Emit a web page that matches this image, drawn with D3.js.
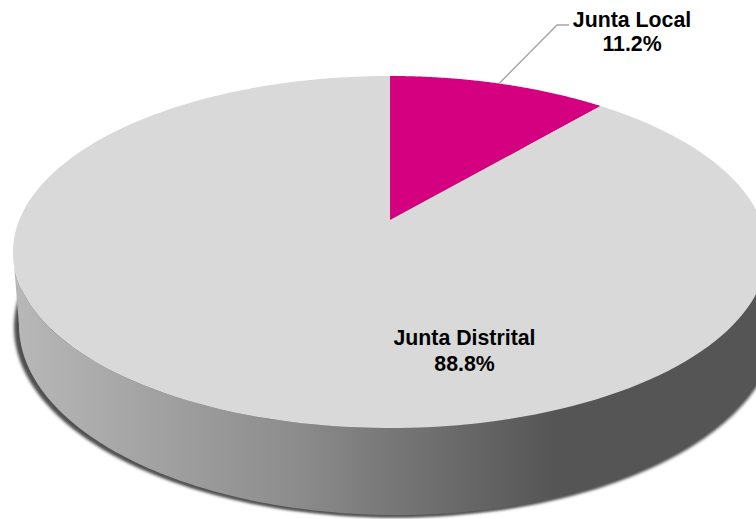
<!DOCTYPE html>
<html><head><meta charset="utf-8">
<script src="https://cdn.jsdelivr.net/npm/d3@7"></script>
<style>html,body{margin:0;padding:0;background:#fff;overflow:hidden}svg{display:block}
text{font-family:"Liberation Sans",Arial,sans-serif;font-weight:700;font-size:21.3px;fill:#000;text-anchor:middle}</style>
</head><body><div id="chart"></div>
<script>
const categories = ["Junta Local", "Junta Distrital"];
const shares = [11.2, 88.8];
const sliceColors = ["#d5007f", "#d9d9d9"];

const W = 756, H = 519;
const svg = d3.select("#chart").append("svg").attr("width", W).attr("height", H);
const defs = svg.append("defs");

// perspective disc: unit-circle point -> screen
const cx = 390, apexY = 220, persp = 64 / 352;
const sx = 370.7, sy = 170.2;
const project = a => {
  const u = Math.sin(a), v = Math.cos(a), w = 1 + persp * v;
  return [cx + sx * u / w, apexY - sy * v / w];
};
const sweep = (a0, a1) => d3.range(0, 181).map(i => a0 + (a1 - a0) * i / 180);

const pie = d3.pie().sort(null).value(d => d)(shares);

// outlines of the disc: upper rim and lower base
const rim = {cx: 390, rx: 377, ry: 176, cy: 252};
const base = {cx: 397, rx: 378, ry: 190, cy: 325};
const pt = e => t => [e.cx + e.rx * Math.cos(t), e.cy + e.ry * Math.sin(t)];
const baseLine = d3.line()(sweep(0, 2 * Math.PI).map(pt(base))) + "Z";

// shadow
const blur = defs.append("filter").attr("id", "soft")
  .attr("x", "-5%").attr("y", "-5%").attr("width", "110%").attr("height", "110%");
blur.append("feGaussianBlur").attr("stdDeviation", 1.8);
svg.append("path").attr("d", baseLine).attr("fill", "#4f4f4f")
  .attr("transform", "translate(-5,2)").attr("filter", "url(#soft)");
svg.append("path").attr("d", baseLine).attr("fill", "#555")
  .attr("transform", "translate(1,2)").attr("filter", "url(#soft)");

// wall
const grad = defs.append("linearGradient").attr("id", "wall")
  .attr("gradientUnits", "userSpaceOnUse").attr("x1", 13).attr("x2", 556).attr("y1", 0).attr("y2", 0);
[["0", "#b8b8b8"], ["0.5", "#8e8e8e"], ["1", "#555555"]].forEach(([o, c]) =>
  grad.append("stop").attr("offset", o).attr("stop-color", c));
svg.append("path")
  .attr("d", d3.line()([...sweep(0, Math.PI).map(pt(rim)), ...sweep(Math.PI, 0).map(pt(base))]) + "Z")
  .attr("fill", "url(#wall)");

// top slices
const slicePath = d => d3.line()(
  [[cx, apexY], ...sweep(d.startAngle, d.endAngle).map(project)]) + "Z";
svg.selectAll("path.slice").data(pie).enter().append("path")
  .attr("class", "slice")
  .attr("d", slicePath)
  .attr("fill", (d, i) => sliceColors[i]);

// leader for the small slice
const anchor = project((pie[0].startAngle + pie[0].endAngle) / 2);
svg.append("path")
  .attr("d", d3.line()([anchor, [557, 25], [569, 25]]))
  .attr("fill", "none").attr("stroke", "#a6a6a6").attr("stroke-width", 1.5);

const labelSpots = [[632, 27, 51], [464.5, 345, 371]];
categories.forEach((c, i) => {
  const [x, y1, y2] = labelSpots[i];
  svg.append("text").attr("x", x).attr("y", y1).text(c);
  svg.append("text").attr("x", x).attr("y", y2).text(d3.format(".1f")(shares[i]) + "%");
});
</script></body></html>
